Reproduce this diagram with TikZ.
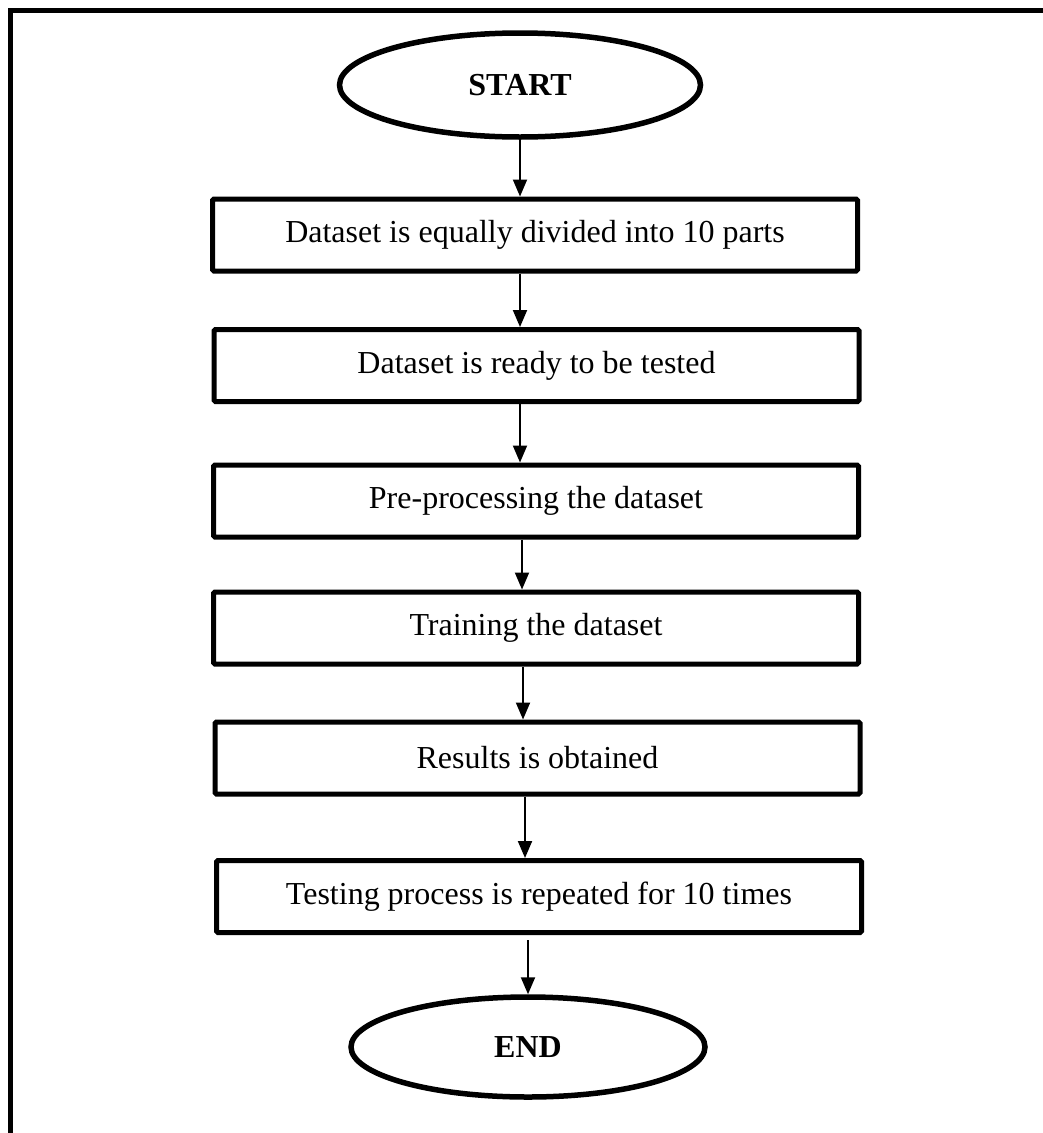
\documentclass[tikz,border=0pt]{standalone}
\usepackage{fontspec}
\setmainfont{Liberation Serif}
\usetikzlibrary{arrows.meta,shapes.geometric}
\begin{document}
\begin{tikzpicture}[x=1pt,y=-1pt,
  stepbox/.style={draw, line width=5pt, rounded corners=1.5pt, minimum width=645pt,
    minimum height=72pt, inner sep=0pt, font=\fontsize{32}{38}\selectfont},
  term/.style={draw, ellipse, line width=5.5pt, inner sep=0pt,
    font=\fontsize{32}{38}\selectfont\bfseries},
  flow/.style={line width=2pt, -{Triangle[width=14pt,length=17pt]}}]
\useasboundingbox (0,0) rectangle (1043,1133);
\draw[line width=5pt] (10.5,1133) -- (10.5,10) -- (1043,10);
\node[term, minimum width=361pt, minimum height=104pt] (start) at (520,85) {START};
\node[stepbox] (b1) at (535,235) {Dataset is equally divided into 10 parts};
\node[stepbox] (b2) at (536.5,365.5) {Dataset is ready to be tested};
\node[stepbox] (b3) at (536,501) {Pre-processing the dataset};
\node[stepbox] (b4) at (536,628) {Training the dataset};
\node[stepbox] (b5) at (537.5,758) {Results is obtained};
\node[stepbox] (b6) at (539,896.5) {Testing process is repeated for 10 times};
\node[term, minimum width=354pt, minimum height=100pt] (end) at (528,1047) {END};
\draw[flow] (start.south) -- (start.south |- b1.north);
\draw[flow] ([xshift=-15pt]b1.south) -- ([xshift=-15pt]b1.south |- b2.north);
\draw[flow] ([xshift=-16.5pt]b2.south) -- ([xshift=-16.5pt]b2.south |- b3.north);
\draw[flow] ([xshift=-14pt]b3.south) -- ([xshift=-14pt]b3.south |- b4.north);
\draw[flow] ([xshift=-13pt]b4.south) -- ([xshift=-13pt]b4.south |- b5.north);
\draw[flow] ([xshift=-12.5pt]b5.south) -- ([xshift=-12.5pt]b5.south |- b6.north);
\draw[flow] ([yshift=-5pt]b6.south -| end.north) -- (end.north);
\end{tikzpicture}
\end{document}
